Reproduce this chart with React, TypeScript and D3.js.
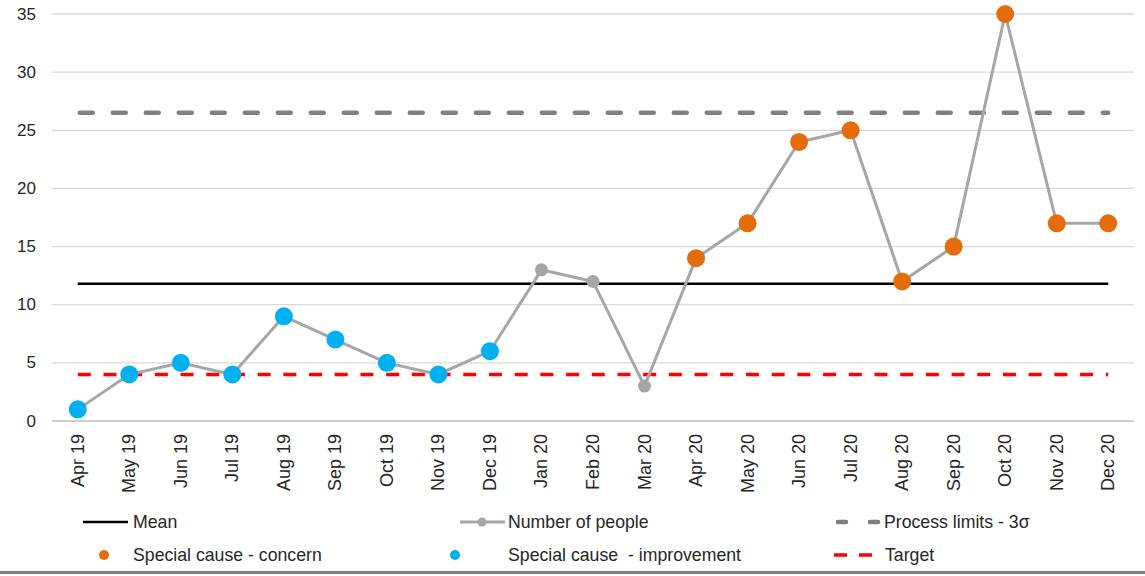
import React, { useEffect, useRef } from 'react';
import * as d3 from 'd3';

const months = [
  'Apr 19', 'May 19', 'Jun 19', 'Jul 19', 'Aug 19', 'Sep 19', 'Oct 19', 'Nov 19', 'Dec 19',
  'Jan 20', 'Feb 20', 'Mar 20', 'Apr 20', 'May 20', 'Jun 20', 'Jul 20', 'Aug 20', 'Sep 20',
  'Oct 20', 'Nov 20', 'Dec 20',
];
const people = [1, 4, 5, 4, 9, 7, 5, 4, 6, 13, 12, 3, 14, 17, 24, 25, 12, 15, 35, 17, 17];
const concernMonths = ['Apr 20', 'May 20', 'Jun 20', 'Jul 20', 'Aug 20', 'Sep 20', 'Oct 20', 'Nov 20', 'Dec 20'];
const improvementMonths = ['Apr 19', 'May 19', 'Jun 19', 'Jul 19', 'Aug 19', 'Sep 19', 'Oct 19', 'Nov 19', 'Dec 19'];
const yTicks = [0, 5, 10, 15, 20, 25, 30, 35];
const meanValue = 11.8;
const upperLimit = 26.5;
const targetValue = 4;

const ORANGE = '#E46C0A';
const BLUE = '#00B0F0';
const GREY = '#A6A6A6';
const LIMIT = '#808080';
const RED = '#FF0000';
const FONT = '"Liberation Sans", Arial, sans-serif';

const App = () => {
  const svgRef = useRef<SVGSVGElement>(null);

  useEffect(() => {
    const svg = d3.select(svgRef.current);
    svg.selectAll('*').remove();
    const width = 1145;
    const height = 576;
    const margin = { top: 14, right: 11, bottom: 155, left: 52 };

    svg.attr('width', width).attr('height', height);

    const x = d3
      .scaleBand()
      .domain(months)
      .range([margin.left, width - margin.right])
      .padding(0);
    const cx = (m: string) => (x(m) as number) + x.bandwidth() / 2;

    const y = d3
      .scaleLinear()
      .domain([0, 35])
      .range([height - margin.bottom, margin.top]);

    // gridlines
    svg
      .append('g')
      .selectAll('line')
      .data(yTicks.filter((t) => t > 0))
      .enter()
      .append('line')
      .attr('x1', margin.left)
      .attr('x2', width - margin.right)
      .attr('y1', (d) => y(d))
      .attr('y2', (d) => y(d))
      .style('stroke', '#D9D9D9')
      .style('stroke-width', 1.3);

    // y tick labels
    svg
      .append('g')
      .selectAll('text')
      .data(yTicks)
      .enter()
      .append('text')
      .attr('x', 36)
      .attr('y', (d) => y(d))
      .attr('text-anchor', 'end')
      .attr('dominant-baseline', 'central')
      .text((d) => d)
      .style('font-family', FONT)
      .style('font-size', '17px')
      .style('fill', '#262626');

    // x axis line
    svg
      .append('line')
      .attr('x1', margin.left)
      .attr('x2', width - margin.right)
      .attr('y1', y(0))
      .attr('y2', y(0))
      .style('stroke', '#BFBFBF')
      .style('stroke-width', 1.5);

    // x labels, rotated
    svg
      .append('g')
      .selectAll('text')
      .data(months)
      .enter()
      .append('text')
      .attr('transform', (d) => `translate(${cx(d)},${y(0) + 13}) rotate(-90)`)
      .attr('text-anchor', 'end')
      .attr('dominant-baseline', 'central')
      .text((d) => d)
      .style('font-family', FONT)
      .style('font-size', '18px')
      .style('fill', '#262626');

    const x0 = cx(months[0]);
    const x1 = cx(months[months.length - 1]);

    // target line
    svg
      .append('line')
      .attr('x1', x0)
      .attr('x2', x1)
      .attr('y1', y(targetValue))
      .attr('y2', y(targetValue))
      .style('stroke', RED)
      .style('stroke-width', 3.5)
      .style('stroke-dasharray', '13 12.7');

    // mean
    svg
      .append('line')
      .attr('x1', x0)
      .attr('x2', x1)
      .attr('y1', y(meanValue))
      .attr('y2', y(meanValue))
      .style('stroke', '#000')
      .style('stroke-width', 2.5);

    // process limit
    svg
      .append('line')
      .attr('x1', x0 + 2)
      .attr('x2', x1)
      .attr('y1', y(upperLimit))
      .attr('y2', y(upperLimit))
      .style('stroke', LIMIT)
      .style('stroke-width', 4.5)
      .style('stroke-linecap', 'round')
      .style('stroke-dasharray', '13 20');

    // number of people line
    const line = d3
      .line<number>()
      .x((_, i) => cx(months[i]))
      .y((d) => y(d));
    svg
      .append('path')
      .datum(people)
      .attr('d', line)
      .style('fill', 'none')
      .style('stroke', GREY)
      .style('stroke-width', 3)
      .style('stroke-linejoin', 'round');

    // markers
    const pts = months.map((m, i) => ({ m, v: people[i] }));
    svg
      .append('g')
      .selectAll('circle')
      .data(pts)
      .enter()
      .append('circle')
      .attr('cx', (d) => cx(d.m))
      .attr('cy', (d) => y(d.v))
      .attr('r', (d) => (concernMonths.includes(d.m) || improvementMonths.includes(d.m) ? 9 : 6.5))
      .style('fill', (d) =>
        concernMonths.includes(d.m) ? ORANGE : improvementMonths.includes(d.m) ? BLUE : GREY
      );

    // legend
    const lg = svg.append('g').style('font-family', FONT).style('font-size', '17.7px').style('fill', '#262626');
    const row1 = 522;
    const row2 = 555;
    const label = (tx: number, ty: number, s: string) =>
      lg
        .append('text')
        .attr('x', tx)
        .attr('y', ty)
        .attr('dominant-baseline', 'central')
        .style('white-space', 'pre')
        .text(s);

    lg.append('line').attr('x1', 83).attr('x2', 128).attr('y1', row1).attr('y2', row1)
      .style('stroke', '#000').style('stroke-width', 2.5);
    label(133, row1, 'Mean');

    lg.append('line').attr('x1', 460).attr('x2', 505).attr('y1', row1).attr('y2', row1)
      .style('stroke', GREY).style('stroke-width', 3);
    lg.append('circle').attr('cx', 482).attr('cy', row1).attr('r', 4.5).style('fill', GREY);
    label(508, row1, 'Number of people');

    lg.append('line').attr('x1', 838).attr('x2', 880).attr('y1', row1).attr('y2', row1)
      .style('stroke', LIMIT).style('stroke-width', 4.5).style('stroke-linecap', 'round')
      .style('stroke-dasharray', '8 24');
    label(884, row1, 'Process limits - 3σ');

    lg.append('circle').attr('cx', 104).attr('cy', row2).attr('r', 5).style('fill', ORANGE);
    label(133, row2, 'Special cause - concern');

    lg.append('circle').attr('cx', 455).attr('cy', row2).attr('r', 5).style('fill', BLUE);
    label(508, row2, 'Special cause  - improvement');

    lg.append('line').attr('x1', 834).attr('x2', 873).attr('y1', row2).attr('y2', row2)
      .style('stroke', RED).style('stroke-width', 3.5).style('stroke-dasharray', '13 12');
    label(885, row2, 'Target');

    // bottom border
    svg
      .append('line')
      .attr('x1', 0)
      .attr('x2', width)
      .attr('y1', 572.5)
      .attr('y2', 572.5)
      .style('stroke', '#808080')
      .style('stroke-width', 3);
  }, []);

  return (
    <svg
      ref={svgRef}
      style={{ position: 'absolute', top: 0, left: 0, display: 'block', background: '#fff' }}
    ></svg>
  );
};

export default App;
